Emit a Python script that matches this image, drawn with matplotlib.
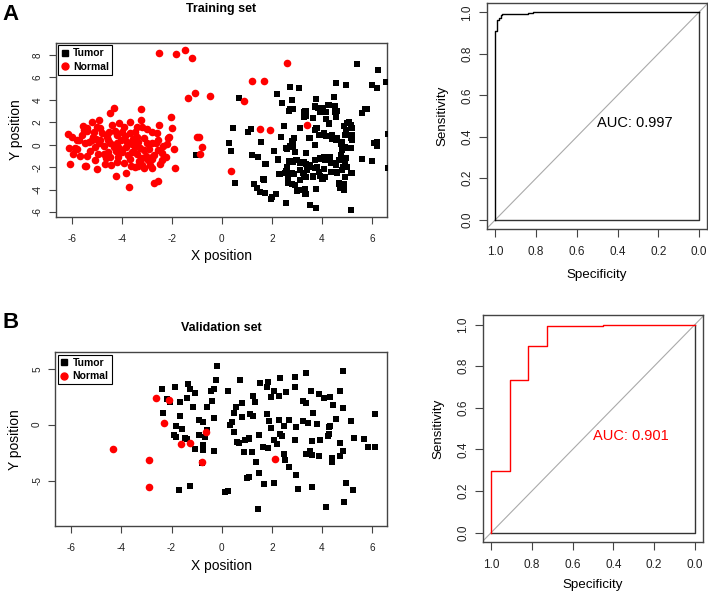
import numpy as np
import matplotlib
matplotlib.use("Agg")
import matplotlib.pyplot as plt
from matplotlib.lines import Line2D

plt.rcParams['font.family'] = ['Liberation Sans', 'DejaVu Sans']
plt.rcParams['axes.unicode_minus'] = False

# ---- Training set (t-SNE like coordinates) ----
train_normal = [
    (-2.52, 8.2), (-1.83, 8.12), (-1.46, 8.47), (-1.2, 7.73), (-1.08, 4.61), (-1.34, 4.19),
    (-0.47, 4.37), (-0.91, 0.69), (-0.98, 0.66), (-0.8, -0.23), (-0.86, -0.8), (0.35, -2.37),
    (2.59, 7.32), (1.22, 5.71), (1.69, 5.71), (0.87, 3.93), (1.52, 1.43), (1.93, 1.34), (3.4, 1.73),
    (-4.47, 2.86), (-4.31, 3.24), (-3.24, 3.18), (-5.2, 2.05), (-4.91, 2.2), (-5.55, 1.67),
    (-5.51, 1.34), (-4.87, 1.52), (-4.39, 1.73), (-4.13, 1.9), (-3.67, 2.05), (-3.91, 1.58),
    (-3.24, 2.23), (-2.04, 2.44), (-2.51, 1.73), (-6.13, 0.98), (-5.99, 0.65), (-5.77, 0.42),
    (-5.39, 1.22), (-5.13, 1.16), (-5.0, 1.58), (-4.79, 1.04), (-4.53, 1.16), (-4.28, 1.22),
    (-3.88, 0.77), (-3.69, 1.07), (-3.47, 1.16), (-3.4, 0.65), (-3.21, 1.58), (-3.0, 1.43),
    (-2.0, 1.49), (-2.11, 0.68), (-2.17, 0.57), (-6.09, -0.3), (-5.87, -0.27), (-5.69, 0.39),
    (-5.47, 0.12), (-5.29, 0.27), (-5.05, 0.48), (-4.87, 0.42), (-4.71, -0.12), (-4.47, 0.12),
    (-4.2, 0.18), (-4.04, 0.42), (-3.85, -0.21), (-3.6, 0.06), (-3.36, 0.27), (-3.13, 0.57),
    (-3.0, 0.12), (-2.8, 0.12), (-2.65, 0.12), (-2.55, 0.42), (-2.37, -0.09), (-2.2, 0.06),
    (-1.93, -0.36), (-2.56, -0.45), (-5.95, -0.83), (-5.67, -0.98), (-5.25, -0.54), (-4.97, -0.83),
    (-4.71, -0.8), (-4.47, -1.07), (-4.25, -0.54), (-4.0, -0.65), (-3.75, -0.89), (-3.6, -0.63),
    (-3.41, -0.83), (-3.11, -0.51), (-2.92, -0.42), (-2.71, -0.95), (-2.4, -0.74), (-2.24, -1.07),
    (-6.08, -1.73), (-5.47, -1.93), (-5.01, -2.17), (-4.69, -1.7), (-4.45, -1.82), (-4.19, -1.58),
    (-3.92, -1.64), (-3.64, -1.93), (-3.37, -1.88), (-3.2, -1.82), (-2.96, -1.37), (-2.79, -1.31),
    (-2.49, -1.7), (-2.39, -1.37), (-1.87, -2.11), (-3.48, -2.02), (-3.13, -2.05), (-3.85, -2.5),
    (-4.23, -2.8), (-2.73, -3.39), (-2.56, -3.24), (-3.72, -3.75),
    (-5.4, 1.46), (-5.6, 0.86), (-5.16, 0.71), (-4.92, 0.12), (-4.6, 0.71), (-4.33, -0.18),
    (-4.11, -0.33), (-3.47, -0.18), (-3.29, -0.33), (-3.05, -1.01), (-3.21, -1.22), (-2.89, -1.82),
    (-4.65, -1.16), (-5.08, -1.34), (-5.37, -1.01), (-5.79, -0.39), (-4.55, -0.63), (-4.15, -1.13),
    (-3.67, -1.31), (-3.33, -1.43), (-3.8, 0.27), (-3.56, 0.48), (-4.2, 0.86), (-4.57, 0.42),
    (-2.6, 1.01), (-2.8, 1.16), (-5.07, -0.18), (-4.0, 1.16), (-3.4, 1.61), (-5.2, 0.42),
    (-2.8, -1.07), (-5.43, -1.88), (-2.8, -2.11),
]

train_tumor = [
    (-1.03, -0.95), (0.68, 4.19), (0.43, 1.46), (0.3, 0.12), (0.37, -0.53), (0.52, -3.42),
    (5.42, 7.17), (6.23, 6.66), (4.58, 5.47), (4.95, 5.32), (6.0, 5.32), (6.19, 5.03), (6.57, 5.62),
    (2.72, 5.18), (3.1, 5.06), (2.21, 4.55), (2.39, 3.71), (2.79, 3.98), (3.78, 4.04), (4.47, 4.22),
    (4.24, 3.54), (4.51, 3.48), (3.71, 3.45), (3.85, 3.24), (2.72, 3.15), (2.85, 3.21), (3.33, 3.0),
    (3.91, 2.94), (4.15, 2.94), (4.6, 3.03), (5.74, 3.15), (5.6, 2.86), (4.58, 2.5), (3.29, 2.44),
    (3.65, 2.35), (4.15, 2.29), (5.08, 2.05), (4.27, 1.91), (4.87, 1.67), (5.17, 1.76), (1.15, 1.4),
    (1.06, 1.1), (2.47, 1.7), (3.12, 1.46), (3.78, 1.52), (3.71, 1.31), (2.36, 0.66), (2.79, 0.33),
    (2.89, 0.63), (3.47, 0.6), (4.04, 0.86), (4.18, 0.77), (4.42, 0.86), (4.58, 0.42), (4.95, 1.31),
    (5.01, 0.86), (5.19, 0.77), (5.17, 0.57), (1.56, 0.27), (2.72, -0.12), (2.85, -0.18),
    (2.92, -0.63), (3.71, -0.03), (4.78, 0.06), (4.91, -0.24), (4.82, -0.48), (5.17, -0.33),
    (6.1, 0.12), (6.19, -0.12), (6.63, 0.92), (1.21, -0.92), (1.46, -1.13), (2.08, -0.54),
    (2.56, -0.33), (1.74, -1.76), (2.25, -1.31), (2.59, -1.96), (2.68, -1.43), (2.85, -1.52),
    (2.98, -1.37), (3.12, -1.67), (3.25, -1.52), (3.35, -0.77), (3.35, -1.73), (3.52, -1.96),
    (3.71, -1.37), (3.8, -1.96), (3.91, -1.22), (4.09, -1.13), (4.31, -1.07), (4.38, -1.67),
    (4.55, -1.82), (4.68, -1.37), (4.78, -0.92), (4.84, -1.96), (4.97, -1.22), (5.61, -1.31),
    (6.0, -1.46), (6.64, -2.05), (2.28, -2.65), (2.52, -2.56), (2.72, -2.56), (2.89, -2.62),
    (3.25, -2.56), (3.38, -2.86), (3.65, -2.86), (3.91, -2.77), (4.01, -3.09), (4.11, -2.86),
    (4.38, -2.41), (4.58, -2.41), (4.91, -2.86), (5.17, -2.5), (1.63, -3.09), (1.7, -3.15),
    (1.3, -3.51), (1.42, -3.9), (1.53, -4.2), (1.71, -4.34), (1.96, -4.85), (2.16, -4.43),
    (2.02, -4.7), (2.55, -5.2), (2.65, -3.06), (2.65, -3.45), (2.81, -3.54), (3.02, -4.1),
    (3.18, -4.04), (3.33, -4.1), (3.38, -4.4), (3.75, -3.99), (3.51, -5.38), (3.78, -5.68),
    (4.69, -3.51), (4.77, -3.66), (4.88, -3.51), (4.71, -3.9), (5.17, -5.83),
    (3.72, 3.4), (3.93, 3.1), (4.06, 3.24), (4.28, 3.54), (4.53, 2.95), (3.37, 3.03), (3.35, 2.59),
    (3.66, 2.41), (5.8, 3.15), (4.3, 1.82), (5.0, 1.9), (5.1, 2.05), (5.2, 1.49), (3.8, 1.46),
    (3.53, 0.63), (3.9, 0.86), (4.1, 1.01), (4.4, 0.51), (4.6, 0.57), (4.8, 0.27), (4.93, 0.86),
    (5.2, 0.86), (5.2, 0.42), (3.73, -0.03), (4.8, -0.03), (4.93, -0.33), (5.13, -0.33),
    (6.2, 0.21), (3.37, -0.78), (3.93, -1.23), (4.13, -1.38), (4.33, -1.08), (4.53, -1.67),
    (4.73, -1.38), (4.93, -1.52), (5.0, -1.97), (3.27, -1.52), (3.53, -1.82), (3.4, -2.26),
    (3.73, -2.11), (3.9, -2.41), (4.1, -2.17), (4.4, -2.41), (4.6, -2.56), (4.8, -2.26),
    (5.2, -2.56), (3.27, -2.8), (3.66, -2.8), (4.06, -3.09), (4.67, -3.39), (4.8, -3.69),
    (4.87, -4.05), (3.33, -3.99), (3.33, -4.4), (3.77, -3.99),
    (2.4, 3.69), (2.7, 3.0), (3.27, 2.95), (2.37, 0.69), (2.83, 0.27), (2.07, -0.53), (2.6, -0.39),
    (1.75, -1.76), (2.23, -1.38), (2.73, -1.46), (3.0, -1.38), (3.2, -1.58), (2.31, -2.6),
    (2.57, -2.38), (2.8, -2.53), (3.13, -2.23), (1.67, -3.1), (2.93, -3.6), (3.13, -3.15),
]

# ---- Validation set ----
valid_normal = [
    (-4.34, -2.15), (-2.9, -3.17), (-2.9, -5.62), (-2.61, 2.36), (-2.1, 2.21), (-2.31, 0.15),
    (-1.61, -1.77), (-1.27, -1.61), (-0.8, -3.31), (-0.63, -0.65), (2.13, -3.07),
]

valid_tumor = [
    (-0.17, 5.22), (-0.24, 4.0), (-0.29, 3.2), (-0.42, 3.05), (-1.34, 3.67), (-1.88, 3.37),
    (-2.38, 3.23), (-1.25, 3.17), (-1.06, 2.84), (-1.4, 2.42), (-2.18, 2.33), (-2.07, 2.0),
    (-1.65, 2.03), (-1.15, 1.56), (-0.59, 1.56), (-0.39, 2.12), (-2.34, 1.05), (-1.67, 0.81),
    (-0.91, 0.45), (-0.73, 0.27), (-0.31, 0.57), (-1.81, -0.12), (-1.6, -0.39), (-1.92, -0.96),
    (-1.82, -1.07), (-1.48, -1.19), (-1.39, -1.28), (-0.91, -0.96), (-0.6, -0.47), (-0.67, -1.13),
    (-0.73, -1.82), (-0.73, -2.24), (-1.05, -2.21), (-0.31, -2.39), (-0.8, -3.46), (-1.72, -5.82),
    (-1.26, -5.49), (0.14, -6.06), (0.25, -5.97), (0.25, 3.02), (0.35, -0.03), (0.42, 0.27),
    (0.56, 1.56), (0.51, 1.02), (0.51, -0.65), (0.62, -1.52), (0.72, 4.0), (0.8, 1.91),
    (0.81, 0.69), (0.68, -1.61), (0.91, -2.42), (1.01, -4.75),
    (1.54, 3.76), (1.86, 3.82), (1.83, 3.34), (2.32, 4.15), (2.93, 4.24), (3.35, 4.6), (4.84, 4.81),
    (1.25, 2.57), (1.33, 2.06), (1.96, 2.47), (2.09, 2.98), (2.3, 2.6), (2.56, 2.96), (2.92, 3.4),
    (3.58, 2.98), (3.9, 2.75), (4.08, 2.36), (4.32, 2.45), (4.71, 3.04), (4.45, 1.79), (4.86, 1.49),
    (3.24, 2.15), (3.37, 1.91), (3.66, 1.07), (1.25, 0.78), (1.12, 0.96), (1.8, 0.96), (1.91, 0.36),
    (2.3, 0.42), (2.49, -0.12), (2.69, 0.42), (2.98, -0.24), (3.24, 0.36), (3.44, 0.12),
    (3.79, 0.06), (4.27, -0.24), (4.32, -0.12), (4.55, 0.48), (5.16, 0.36), (6.13, 0.96),
    (1.99, -0.33), (2.32, -0.84), (2.39, -1.01), (2.09, -1.37), (2.22, -1.73), (1.67, -2.03),
    (1.51, -0.96), (0.93, -1.37), (1.1, -1.19), (1.08, -1.31), (1.21, -2.42), (1.38, -3.37),
    (1.5, -4.3), (1.09, -4.72), (1.71, -5.34), (2.09, -5.25), (2.49, -2.63), (2.53, -3.16),
    (2.69, -3.76), (2.95, -4.51), (3.05, -5.76), (3.61, -5.55), (3.35, -2.63), (3.54, -2.33),
    (3.6, -2.75), (3.9, -2.78), (4.39, -2.96), (4.39, -3.31), (4.71, -2.78), (4.84, -2.39),
    (2.93, -1.37), (3.59, -1.43), (3.92, -1.37), (4.23, -1.01), (4.28, -0.84), (4.71, -1.61),
    (5.28, -1.16), (5.67, -1.28), (5.84, -1.97), (6.13, -2.03), (4.97, -5.25), (5.25, -5.85),
    (4.9, -6.93), (4.16, -7.4), (1.44, -7.55), (1.84, -2.06),
]

# ---- ROC curves ----
roc_train_spec = [1, 1, 0.992, 0.992, 0.984, 0.984, 0.975, 0.975, 0.97, 0.97, 0.84, 0.84, 0.815, 0.815, 0.0]
roc_train_sens = [0, 0.91, 0.91, 0.965, 0.965, 0.975, 0.975, 0.985, 0.985, 0.99, 0.99, 0.995, 0.995, 1.0, 1.0]
roc_valid_spec = [1, 1, 0.908, 0.908, 0.817, 0.817, 0.727, 0.727, 0.453, 0.453, 0.0]
roc_valid_sens = [0, 0.298, 0.298, 0.735, 0.735, 0.895, 0.895, 0.993, 0.993, 1.0, 1.0]
auc_train = 0.997
auc_valid = 0.901

BOX = '#444444'
RED = '#ff0000'


def style_box(ax):
    for s in ax.spines.values():
        s.set_color(BOX)
        s.set_linewidth(1.0)
    ax.tick_params(colors=BOX, labelcolor='#222222', direction='out')


def scatter_panel(ax, tumor, normal, title, ylim, yticks, title_pad):
    t = np.array(tumor)
    n = np.array(normal)
    ax.scatter(t[:, 0], t[:, 1], marker='s', s=21, c='black', linewidths=0, zorder=3)
    ax.scatter(n[:, 0], n[:, 1], marker='o', s=30, c=RED, linewidths=0, zorder=4)
    ax.set_xlim(-6.64, 6.6)
    ax.set_ylim(*ylim)
    ax.set_xticks([-6, -4, -2, 0, 2, 4, 6])
    ax.set_yticks(yticks)
    ax.tick_params(labelsize=7.2, length=5)
    ax.tick_params(axis='x', pad=7)
    ax.tick_params(axis='y', pad=4.5)
    for lab in ax.get_yticklabels():
        lab.set_rotation(90)
        lab.set_va('center')
    ax.set_xlabel('X position', fontsize=10, labelpad=4)
    ax.set_ylabel('Y position', fontsize=10, labelpad=7)
    ax.set_title(title, fontsize=9, fontweight='bold', pad=title_pad)
    style_box(ax)
    handles = [
        Line2D([], [], marker='s', color='black', linestyle='', markersize=4.5),
        Line2D([], [], marker='o', color=RED, linestyle='', markersize=5),
    ]
    leg = ax.legend(handles, ['Tumor', 'Normal'], loc='upper left', fancybox=False,
                    prop={'size': 7.5, 'weight': 'bold'}, handlelength=0.6,
                    handletextpad=0.5, borderpad=0.3, labelspacing=0.3,
                    borderaxespad=0.25, framealpha=1)
    leg.get_frame().set_edgecolor('black')
    leg.get_frame().set_linewidth(0.8)


def roc_panel(ax, spec, sens, auc, color, xlabel_pad):
    ax.set_xlim(1.04, -0.04)
    ax.set_ylim(-0.045, 1.045)
    ax.axline((1, 0), (0, 1), color='#aaaaaa', lw=0.8, zorder=1)
    ax.plot([0, 0, 1], [1, 0, 0], color='#333333', lw=1.0, zorder=2)
    ax.plot(spec, sens, color=color, lw=1.0, zorder=3)
    ax.text(0.5, 0.5, 'AUC: %.3f' % auc, color=color, fontsize=10.5, ha='left', va='top')
    ticks = [0.0, 0.2, 0.4, 0.6, 0.8, 1.0]
    ax.set_xticks(ticks)
    ax.set_yticks(ticks)
    ax.set_xticklabels(['%.1f' % v for v in ticks])
    ax.set_yticklabels(['%.1f' % v for v in ticks], rotation=90, va='center')
    ax.tick_params(labelsize=8.5, length=5.5)
    ax.tick_params(axis='x', pad=7)
    ax.tick_params(axis='y', pad=4.5)
    ax.set_xlabel('Specificity', fontsize=9.6, labelpad=xlabel_pad)
    ax.set_ylabel('Sensitivity', fontsize=9.6, labelpad=9)
    style_box(ax)


fig = plt.figure(figsize=(7.08, 5.92), dpi=100)

axA = fig.add_axes([0.0787, 0.6334, 0.4679, 0.2945])
scatter_panel(axA, train_tumor, train_normal, 'Training set', (-6.45, 9.1),
              [-6, -4, -2, 0, 2, 4, 6, 8], title_pad=22)

axA2 = fig.add_axes([0.6883, 0.6132, 0.3103, 0.3817])
roc_panel(axA2, roc_train_spec, roc_train_sens, auc_train, 'black', 8)

axB = fig.add_axes([0.0781, 0.111, 0.4685, 0.2939])
scatter_panel(axB, valid_tumor, valid_normal, 'Validation set', (-9.1, 6.48),
              [-5, 0, 5], title_pad=15.5)

axB2 = fig.add_axes([0.6822, 0.0845, 0.3107, 0.3829])
roc_panel(axB2, roc_valid_spec, roc_valid_sens, auc_valid, RED, 5.5)

fig.text(0.004, 0.975, 'A', fontsize=16, fontweight='bold', va='center')
fig.text(0.004, 0.455, 'B', fontsize=16, fontweight='bold', va='center')

fig.savefig('out.png', dpi=100)
